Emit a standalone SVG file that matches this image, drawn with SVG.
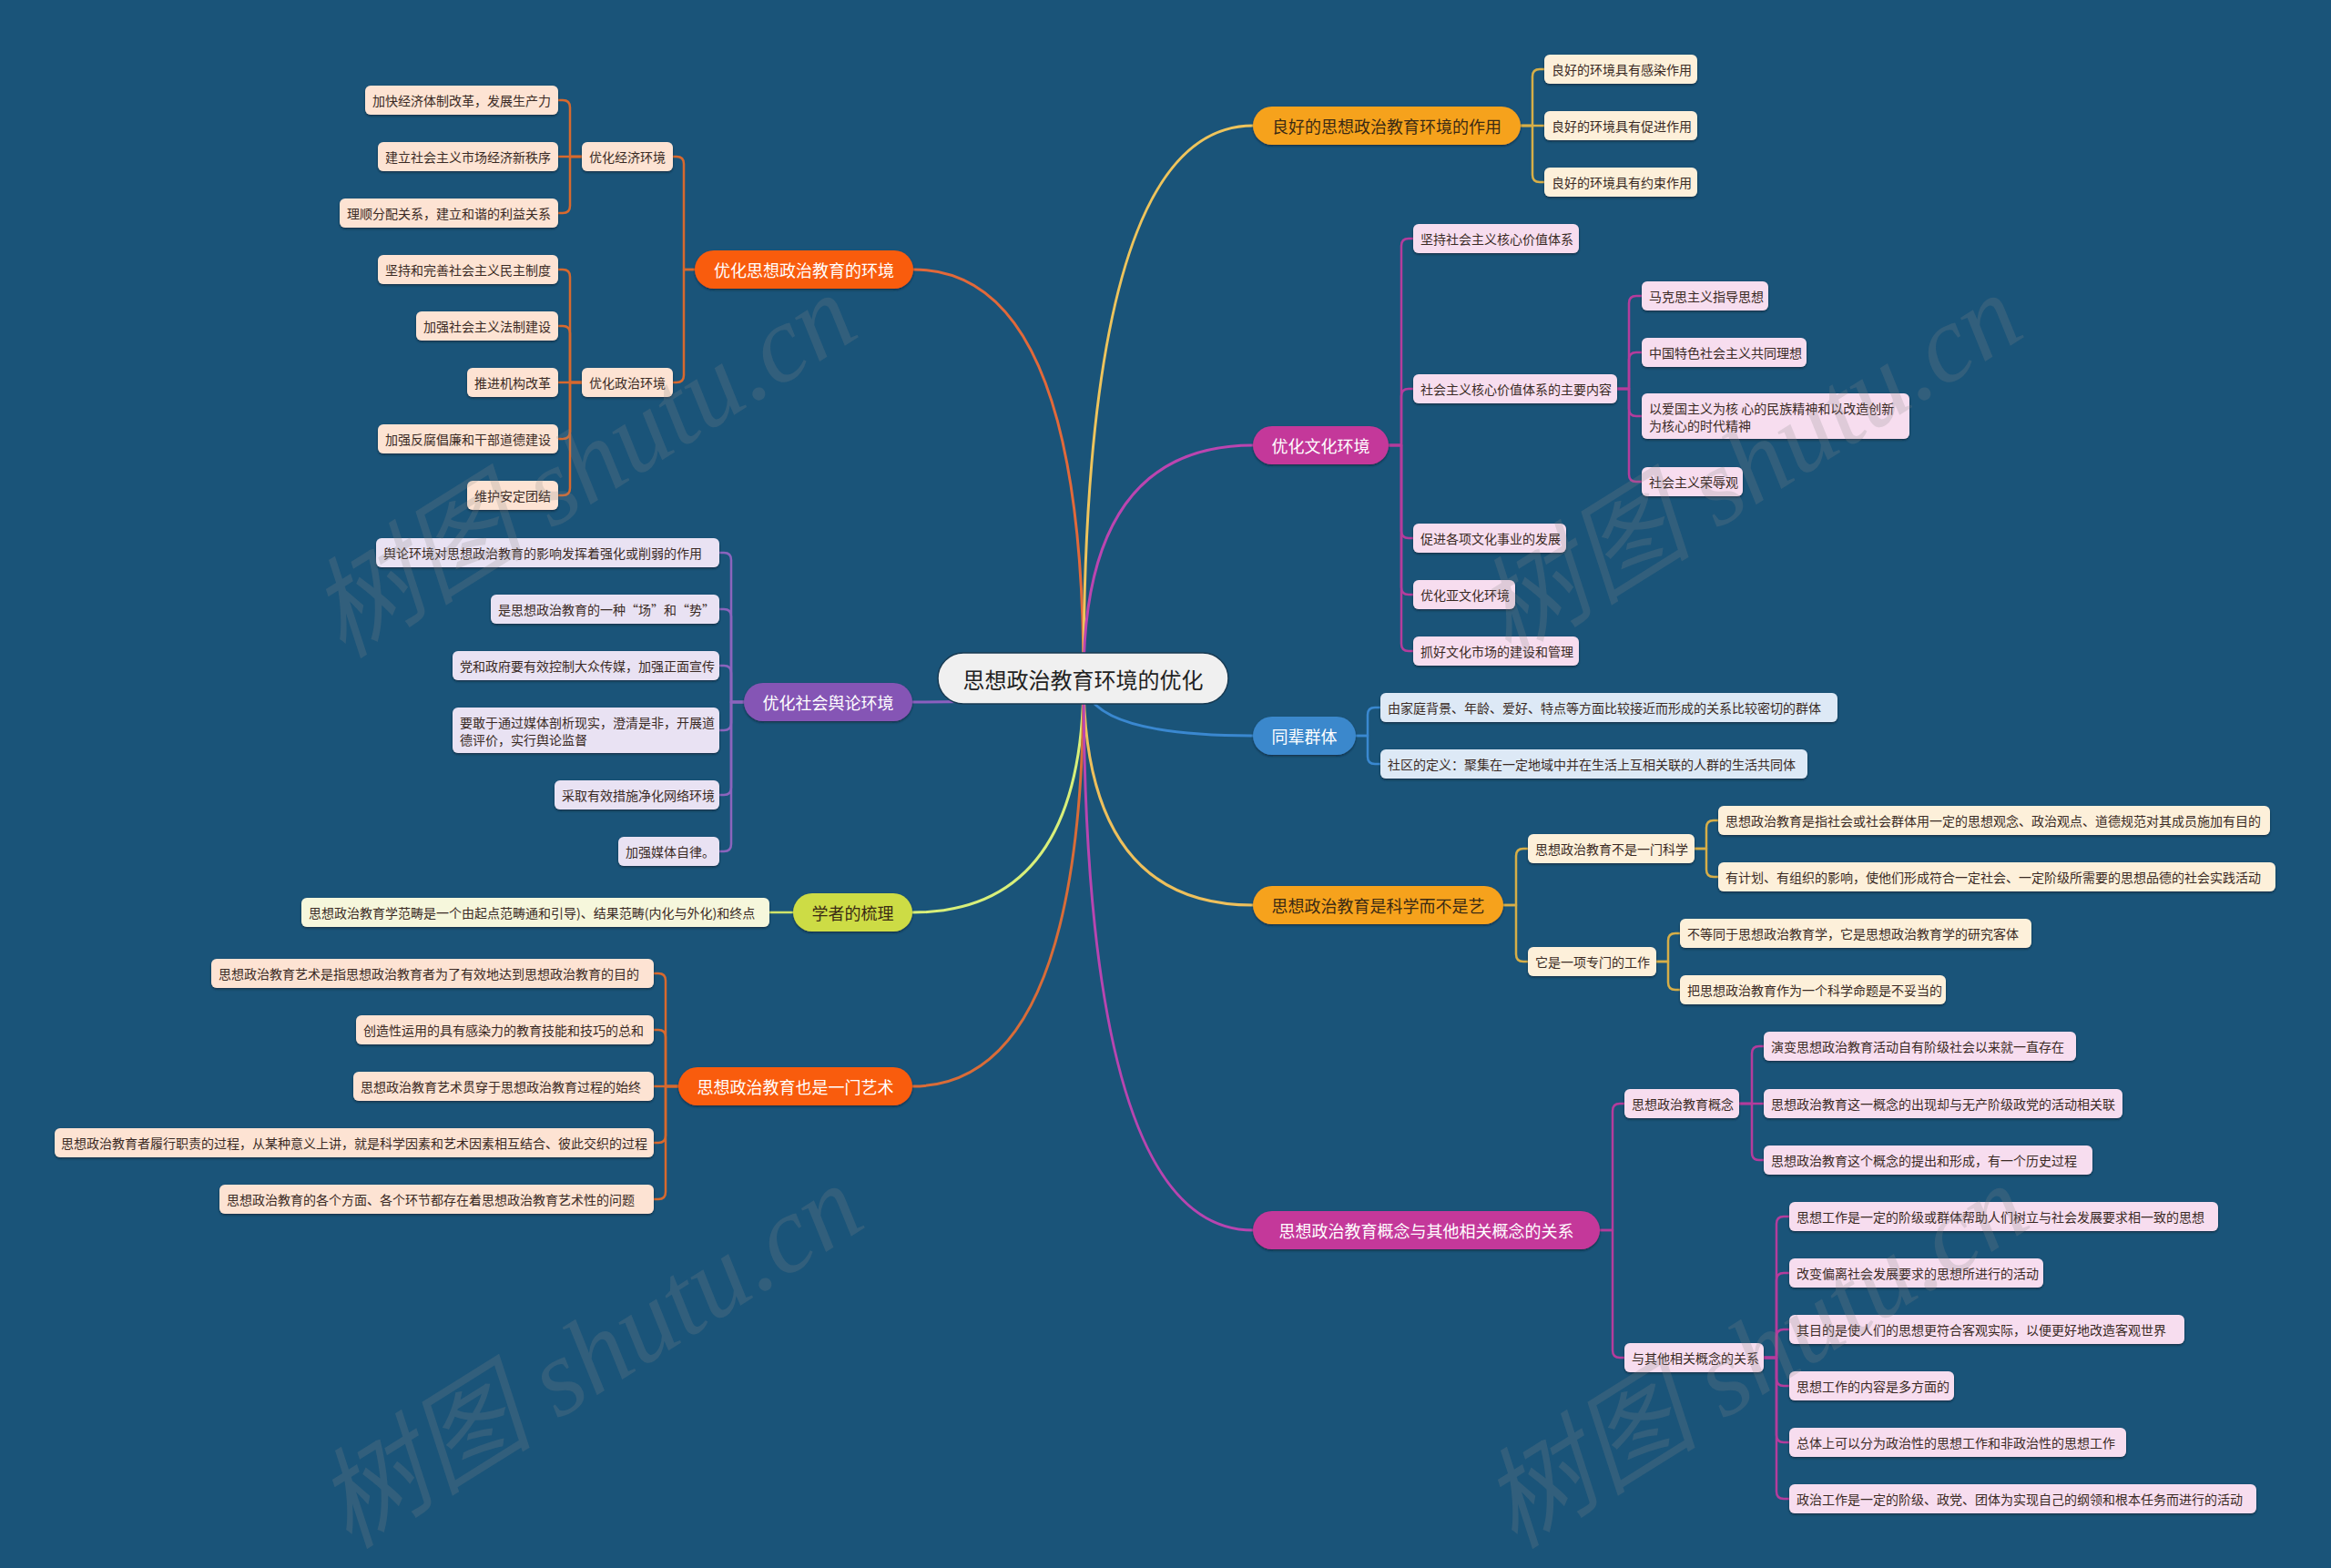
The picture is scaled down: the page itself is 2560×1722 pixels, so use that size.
<svg xmlns="http://www.w3.org/2000/svg" width="2560" height="1722" viewBox="0 0 2560 1722">
<defs>
<filter id="sh" x="-5%" y="-20%" width="110%" height="150%">
<feDropShadow dx="0" dy="1.5" stdDeviation="0.8" flood-color="#0a2436" flood-opacity="0.7"/>
</filter>
<style>
text{font-family:"Noto Sans CJK SC","Liberation Sans",sans-serif;dominant-baseline:central}
.t14{font-size:14px;fill:#3a2a24}
.t18{font-size:18px;text-anchor:middle}
.w{fill:#ffffff}
.d{fill:#3a2a14}
.leaf{filter:url(#sh)}
.lA{fill:#fde3d3}
.lB{fill:#e9e2f3}
.lC{fill:#f6f7dc}
.lE{fill:#fdf0da}
.lF{fill:#f7ddef}
.lG{fill:#dde9f6}
.c{fill:none;stroke-width:2.5;stroke-linecap:round;stroke-linejoin:round}
.m{fill:none;stroke-width:3;stroke-linecap:round}
.wm{font-family:"Liberation Serif","Noto Sans CJK SC",serif;font-style:italic;font-size:120px;fill:#8a8a8a;fill-opacity:0.22}
</style>
</defs>
<rect width="2560" height="1722" fill="#1a5479"/>

<g id="connectors">
<path class="m" stroke="#e2693a" d="M1190,745 Q1190,296 1003,296"/>
<path class="m" stroke="#8b5fc0" d="M1190,745 Q1190,771 1002,771"/>
<path class="m" stroke="#d8ef7a" d="M1190,745 Q1190,1002 1002,1002"/>
<path class="m" stroke="#d96c38" d="M1190,745 Q1190,1193 1002,1193"/>
<path class="m" stroke="#eec45c" d="M1190,745 Q1190,138 1376,138"/>
<path class="m" stroke="#bb45b0" d="M1190,745 Q1190,489 1376,489"/>
<path class="m" stroke="#3a88d0" d="M1190,745 Q1190,808 1376,808"/>
<path class="m" stroke="#eec05c" d="M1190,745 Q1190,994 1376,994"/>
<path class="m" stroke="#b845b0" d="M1190,745 Q1190,1351 1376,1351"/>

<g stroke="#d8692e">
<path class="c" d="M763,296 H751 V180 Q751,172 743,172 H739"/>
<path class="c" d="M763,296 H751 V412 Q751,420 743,420 H739"/>
<path class="c" d="M639,172 H626 V118 Q626,110 618,110 H613"/>
<path class="c" d="M639,172 H613"/>
<path class="c" d="M639,172 H626 V226 Q626,234 618,234 H613"/>
<path class="c" d="M639,420 H626 V304 Q626,296 618,296 H613"/>
<path class="c" d="M639,420 H626 V366 Q626,358 618,358 H613"/>
<path class="c" d="M639,420 H613"/>
<path class="c" d="M639,420 H626 V474 Q626,482 618,482 H613"/>
<path class="c" d="M639,420 H626 V536 Q626,544 618,544 H613"/>
</g>
<g stroke="#8b64bd">
<path class="c" d="M817,771 H803 V615 Q803,607 795,607 H790"/>
<path class="c" d="M817,771 H803 V677 Q803,669 795,669 H790"/>
<path class="c" d="M817,771 H803 V739 Q803,731 795,731 H790"/>
<path class="c" d="M817,771 H803 V794 Q803,802 795,802 H790"/>
<path class="c" d="M817,771 H803 V865 Q803,873 795,873 H790"/>
<path class="c" d="M817,771 H803 V927 Q803,935 795,935 H790"/>
</g>
<g stroke="#cfe46a">
<path class="c" d="M871,1002 H845"/>
</g>
<g stroke="#d8692e">
<path class="c" d="M745,1193 H731 V1077 Q731,1069 723,1069 H718"/>
<path class="c" d="M745,1193 H731 V1139 Q731,1131 723,1131 H718"/>
<path class="c" d="M745,1193 H718"/>
<path class="c" d="M745,1193 H731 V1247 Q731,1255 723,1255 H718"/>
<path class="c" d="M745,1193 H731 V1309 Q731,1317 723,1317 H718"/>
</g>
<g stroke="#d6ae48">
<path class="c" d="M1670,138 H1683 V84 Q1683,76 1691,76 H1696"/>
<path class="c" d="M1670,138 H1696"/>
<path class="c" d="M1670,138 H1683 V192 Q1683,200 1691,200 H1696"/>
</g>
<g stroke="#b43c9c">
<path class="c" d="M1525,489 H1539 V270 Q1539,262 1547,262 H1552"/>
<path class="c" d="M1525,489 H1539 V435 Q1539,427 1547,427 H1552"/>
<path class="c" d="M1525,489 H1539 V583 Q1539,591 1547,591 H1552"/>
<path class="c" d="M1525,489 H1539 V645 Q1539,653 1547,653 H1552"/>
<path class="c" d="M1525,489 H1539 V707 Q1539,715 1547,715 H1552"/>
<path class="c" d="M1776,427 H1789 V333 Q1789,325 1797,325 H1803"/>
<path class="c" d="M1776,427 H1789 V395 Q1789,387 1797,387 H1803"/>
<path class="c" d="M1776,427 H1789 V449 Q1789,457 1797,457 H1803"/>
<path class="c" d="M1776,427 H1789 V521 Q1789,529 1797,529 H1803"/>
</g>
<g stroke="#3a88d0">
<path class="c" d="M1489,808 H1502 V785 Q1502,777 1510,777 H1516"/>
<path class="c" d="M1489,808 H1502 V831 Q1502,839 1510,839 H1516"/>
</g>
<g stroke="#d6ae48">
<path class="c" d="M1651,994 H1665 V940 Q1665,932 1673,932 H1678"/>
<path class="c" d="M1651,994 H1665 V1048 Q1665,1056 1673,1056 H1678"/>
<path class="c" d="M1861,932 H1874 V909 Q1874,901 1882,901 H1887"/>
<path class="c" d="M1861,932 H1874 V955 Q1874,963 1882,963 H1887"/>
<path class="c" d="M1819,1056 H1832 V1033 Q1832,1025 1840,1025 H1845"/>
<path class="c" d="M1819,1056 H1832 V1079 Q1832,1087 1840,1087 H1845"/>
</g>
<g stroke="#b43c9c">
<path class="c" d="M1757,1351 H1771 V1220 Q1771,1212 1779,1212 H1784"/>
<path class="c" d="M1757,1351 H1771 V1483 Q1771,1491 1779,1491 H1784"/>
<path class="c" d="M1910,1212 H1924 V1157 Q1924,1149 1932,1149 H1937"/>
<path class="c" d="M1910,1212 H1937"/>
<path class="c" d="M1910,1212 H1924 V1266 Q1924,1274 1932,1274 H1937"/>
<path class="c" d="M1937,1491 H1951 V1344 Q1951,1336 1959,1336 H1965"/>
<path class="c" d="M1937,1491 H1951 V1406 Q1951,1398 1959,1398 H1965"/>
<path class="c" d="M1937,1491 H1951 V1468 Q1951,1460 1959,1460 H1965"/>
<path class="c" d="M1937,1491 H1951 V1514 Q1951,1522 1959,1522 H1965"/>
<path class="c" d="M1937,1491 H1951 V1576 Q1951,1584 1959,1584 H1965"/>
<path class="c" d="M1937,1491 H1951 V1638 Q1951,1646 1959,1646 H1965"/>
</g>
</g>

<g id="root"><rect x="1030" y="717" width="319" height="56" rx="28" fill="#f0f0f0" stroke="#173a52" stroke-width="1.5"/><text x="1189.5" y="745" style="font-size:24px;text-anchor:middle;fill:#222">思想政治教育环境的优化</text></g>

<!-- Branch A -->
<g id="nA"><rect class="leaf" x="763" y="275" width="240" height="42" rx="21" fill="#f95b0e"/><text class="t18 w" x="883" y="296">优化思想政治教育的环境</text></g>
<g id="nA1"><rect class="leaf lA" x="639" y="156" width="100" height="32" rx="6"/><text class="t14" x="647" y="172">优化经济环境</text></g>
<g id="nA11"><rect class="leaf lA" x="401" y="94" width="212" height="32" rx="6"/><text class="t14" x="409" y="110">加快经济体制改革，发展生产力</text></g>
<g id="nA12"><rect class="leaf lA" x="415" y="156" width="198" height="32" rx="6"/><text class="t14" x="423" y="172">建立社会主义市场经济新秩序</text></g>
<g id="nA13"><rect class="leaf lA" x="373" y="218" width="240" height="32" rx="6"/><text class="t14" x="381" y="234">理顺分配关系，建立和谐的利益关系</text></g>
<g id="nA2"><rect class="leaf lA" x="639" y="404" width="100" height="32" rx="6"/><text class="t14" x="647" y="420">优化政治环境</text></g>
<g id="nA21"><rect class="leaf lA" x="415" y="280" width="198" height="32" rx="6"/><text class="t14" x="423" y="296">坚持和完善社会主义民主制度</text></g>
<g id="nA22"><rect class="leaf lA" x="457" y="342" width="156" height="32" rx="6"/><text class="t14" x="465" y="358">加强社会主义法制建设</text></g>
<g id="nA23"><rect class="leaf lA" x="513" y="404" width="100" height="32" rx="6"/><text class="t14" x="521" y="420">推进机构改革</text></g>
<g id="nA24"><rect class="leaf lA" x="415" y="466" width="198" height="32" rx="6"/><text class="t14" x="423" y="482">加强反腐倡廉和干部道德建设</text></g>
<g id="nA25"><rect class="leaf lA" x="513" y="528" width="100" height="32" rx="6"/><text class="t14" x="521" y="544">维护安定团结</text></g>

<!-- Branch B -->
<g id="nB"><rect class="leaf" x="817" y="750" width="185" height="42" rx="21" fill="#8555b5"/><text class="t18 w" x="909.5" y="771">优化社会舆论环境</text></g>
<g id="nB1"><rect class="leaf lB" x="413" y="591" width="377" height="32" rx="6"/><text class="t14" x="421" y="607">舆论环境对思想政治教育的影响发挥着强化或削弱的作用</text></g>
<g id="nB2"><rect class="leaf lB" x="539" y="653" width="251" height="32" rx="6"/><text class="t14" x="547" y="669">是思想政治教育的一种“场”和“势”</text></g>
<g id="nB3"><rect class="leaf lB" x="497" y="715" width="293" height="32" rx="6"/><text class="t14" x="505" y="731">党和政府要有效控制大众传媒，加强正面宣传</text></g>
<g id="nB4"><rect class="leaf lB" x="497" y="777" width="293" height="50" rx="6"/><text class="t14" x="505" y="793">要敢于通过媒体剖析现实，澄清是非，开展道</text><text class="t14" x="505" y="812">德评价，实行舆论监督</text></g>
<g id="nB5"><rect class="leaf lB" x="609" y="857" width="181" height="32" rx="6"/><text class="t14" x="617" y="873">采取有效措施净化网络环境</text></g>
<g id="nB6"><rect class="leaf lB" x="679" y="919" width="111" height="32" rx="6"/><text class="t14" x="687" y="935">加强媒体自律。</text></g>

<!-- Branch C -->
<g id="nC"><rect class="leaf" x="871" y="981" width="131" height="42" rx="21" fill="#cddc45"/><text class="t18 d" x="936.5" y="1002">学者的梳理</text></g>
<g id="nC1"><rect class="leaf lC" x="331" y="986" width="514" height="32" rx="6"/><text class="t14" x="339" y="1002">思想政治教育学范畴是一个由起点范畴通和引导)、结果范畴(内化与外化)和终点</text></g>

<!-- Branch D -->
<g id="nD"><rect class="leaf" x="745" y="1172" width="257" height="42" rx="21" fill="#f95b0e"/><text class="t18 w" x="873.5" y="1193">思想政治教育也是一门艺术</text></g>
<g id="nD1"><rect class="leaf lA" x="232" y="1053" width="486" height="32" rx="6"/><text class="t14" x="240" y="1069">思想政治教育艺术是指思想政治教育者为了有效地达到思想政治教育的目的</text></g>
<g id="nD2"><rect class="leaf lA" x="391" y="1115" width="327" height="32" rx="6"/><text class="t14" x="399" y="1131">创造性运用的具有感染力的教育技能和技巧的总和</text></g>
<g id="nD3"><rect class="leaf lA" x="388" y="1177" width="330" height="32" rx="6"/><text class="t14" x="396" y="1193">思想政治教育艺术贯穿于思想政治教育过程的始终</text></g>
<g id="nD4"><rect class="leaf lA" x="60" y="1239" width="658" height="32" rx="6"/><text class="t14" x="67" y="1255">思想政治教育者履行职责的过程，从某种意义上讲，就是科学因素和艺术因素相互结合、彼此交织的过程</text></g>
<g id="nD5"><rect class="leaf lA" x="241" y="1301" width="477" height="32" rx="6"/><text class="t14" x="249" y="1317">思想政治教育的各个方面、各个环节都存在着思想政治教育艺术性的问题</text></g>

<!-- Branch E -->
<g id="nE"><rect class="leaf" x="1376" y="117" width="294" height="42" rx="21" fill="#f6a21f"/><text class="t18 d" x="1523" y="138">良好的思想政治教育环境的作用</text></g>
<g id="nE1"><rect class="leaf lE" x="1696" y="60" width="168" height="32" rx="6"/><text class="t14" x="1704" y="76">良好的环境具有感染作用</text></g>
<g id="nE2"><rect class="leaf lE" x="1696" y="122" width="168" height="32" rx="6"/><text class="t14" x="1704" y="138">良好的环境具有促进作用</text></g>
<g id="nE3"><rect class="leaf lE" x="1696" y="184" width="168" height="32" rx="6"/><text class="t14" x="1704" y="200">良好的环境具有约束作用</text></g>

<!-- Branch F -->
<g id="nF"><rect class="leaf" x="1376" y="468" width="149" height="42" rx="21" fill="#c4399a"/><text class="t18 w" x="1450.5" y="489">优化文化环境</text></g>
<g id="nF1"><rect class="leaf lF" x="1552" y="246" width="182" height="32" rx="6"/><text class="t14" x="1560" y="262">坚持社会主义核心价值体系</text></g>
<g id="nF2"><rect class="leaf lF" x="1552" y="411" width="224" height="32" rx="6"/><text class="t14" x="1560" y="427">社会主义核心价值体系的主要内容</text></g>
<g id="nF21"><rect class="leaf lF" x="1803" y="309" width="139" height="32" rx="6"/><text class="t14" x="1811" y="325">马克思主义指导思想</text></g>
<g id="nF22"><rect class="leaf lF" x="1803" y="371" width="181" height="32" rx="6"/><text class="t14" x="1811" y="387">中国特色社会主义共同理想</text></g>
<g id="nF23"><rect class="leaf lF" x="1803" y="432" width="294" height="50" rx="6"/><text class="t14" x="1811" y="448">以爱国主义为核 心的民族精神和以改造创新</text><text class="t14" x="1811" y="467">为核心的时代精神</text></g>
<g id="nF24"><rect class="leaf lF" x="1803" y="513" width="111" height="32" rx="6"/><text class="t14" x="1811" y="529">社会主义荣辱观</text></g>
<g id="nF3"><rect class="leaf lF" x="1552" y="575" width="168" height="32" rx="6"/><text class="t14" x="1560" y="591">促进各项文化事业的发展</text></g>
<g id="nF4"><rect class="leaf lF" x="1552" y="637" width="112" height="32" rx="6"/><text class="t14" x="1560" y="653">优化亚文化环境</text></g>
<g id="nF5"><rect class="leaf lF" x="1552" y="699" width="182" height="32" rx="6"/><text class="t14" x="1560" y="715">抓好文化市场的建设和管理</text></g>

<!-- Branch G -->
<g id="nG"><rect class="leaf" x="1376" y="787" width="113" height="42" rx="21" fill="#3a88cc"/><text class="t18 w" x="1432.5" y="808">同辈群体</text></g>
<g id="nG1"><rect class="leaf lG" x="1516" y="761" width="502" height="32" rx="6"/><text class="t14" x="1524" y="777">由家庭背景、年龄、爱好、特点等方面比较接近而形成的关系比较密切的群体</text></g>
<g id="nG2"><rect class="leaf lG" x="1516" y="823" width="469" height="32" rx="6"/><text class="t14" x="1524" y="839">社区的定义：聚集在一定地域中并在生活上互相关联的人群的生活共同体</text></g>

<!-- Branch H -->
<g id="nH"><rect class="leaf" x="1376" y="973" width="275" height="42" rx="21" fill="#f6a21f"/><text class="t18 d" x="1513.5" y="994">思想政治教育是科学而不是艺</text></g>
<g id="nH1"><rect class="leaf lE" x="1678" y="916" width="183" height="32" rx="6"/><text class="t14" x="1686" y="932">思想政治教育不是一门科学</text></g>
<g id="nH11"><rect class="leaf lE" x="1887" y="885" width="606" height="32" rx="6"/><text class="t14" x="1895" y="901">思想政治教育是指社会或社会群体用一定的思想观念、政治观点、道德规范对其成员施加有目的</text></g>
<g id="nH12"><rect class="leaf lE" x="1887" y="947" width="612" height="32" rx="6"/><text class="t14" x="1895" y="963">有计划、有组织的影响，使他们形成符合一定社会、一定阶级所需要的思想品德的社会实践活动</text></g>
<g id="nH2"><rect class="leaf lE" x="1678" y="1040" width="141" height="32" rx="6"/><text class="t14" x="1686" y="1056">它是一项专门的工作</text></g>
<g id="nH21"><rect class="leaf lE" x="1845" y="1009" width="386" height="32" rx="6"/><text class="t14" x="1853" y="1025">不等同于思想政治教育学，它是思想政治教育学的研究客体</text></g>
<g id="nH22"><rect class="leaf lE" x="1845" y="1071" width="292" height="32" rx="6"/><text class="t14" x="1853" y="1087">把思想政治教育作为一个科学命题是不妥当的</text></g>

<!-- Branch I -->
<g id="nI"><rect class="leaf" x="1376" y="1330" width="381" height="42" rx="21" fill="#c4399a"/><text class="t18 w" x="1566.5" y="1351">思想政治教育概念与其他相关概念的关系</text></g>
<g id="nI1"><rect class="leaf lF" x="1784" y="1196" width="126" height="32" rx="6"/><text class="t14" x="1792" y="1212">思想政治教育概念</text></g>
<g id="nI11"><rect class="leaf lF" x="1937" y="1133" width="343" height="32" rx="6"/><text class="t14" x="1945" y="1149">演变思想政治教育活动自有阶级社会以来就一直存在</text></g>
<g id="nI12"><rect class="leaf lF" x="1937" y="1196" width="394" height="32" rx="6"/><text class="t14" x="1945" y="1212">思想政治教育这一概念的出现却与无产阶级政党的活动相关联</text></g>
<g id="nI13"><rect class="leaf lF" x="1937" y="1258" width="361" height="32" rx="6"/><text class="t14" x="1945" y="1274">思想政治教育这个概念的提出和形成，有一个历史过程</text></g>
<g id="nI2"><rect class="leaf lF" x="1784" y="1475" width="153" height="32" rx="6"/><text class="t14" x="1792" y="1491">与其他相关概念的关系</text></g>
<g id="nI21"><rect class="leaf lF" x="1965" y="1320" width="471" height="32" rx="6"/><text class="t14" x="1973" y="1336">思想工作是一定的阶级或群体帮助人们树立与社会发展要求相一致的思想</text></g>
<g id="nI22"><rect class="leaf lF" x="1965" y="1382" width="279" height="32" rx="6"/><text class="t14" x="1973" y="1398">改变偏离社会发展要求的思想所进行的活动</text></g>
<g id="nI23"><rect class="leaf lF" x="1965" y="1444" width="434" height="32" rx="6"/><text class="t14" x="1973" y="1460">其目的是使人们的思想更符合客观实际，以便更好地改造客观世界</text></g>
<g id="nI24"><rect class="leaf lF" x="1965" y="1506" width="181" height="32" rx="6"/><text class="t14" x="1973" y="1522">思想工作的内容是多方面的</text></g>
<g id="nI25"><rect class="leaf lF" x="1965" y="1568" width="370" height="32" rx="6"/><text class="t14" x="1973" y="1584">总体上可以分为政治性的思想工作和非政治性的思想工作</text></g>
<g id="nI26"><rect class="leaf lF" x="1965" y="1630" width="513" height="32" rx="6"/><text class="t14" x="1973" y="1646">政治工作是一定的阶级、政党、团体为实现自己的纲领和根本任务而进行的活动</text></g>

<g id="watermark">
<text class="wm" transform="translate(355,690) rotate(-32)">树图 shutu.cn</text>
<text class="wm" transform="translate(1635,690) rotate(-32)">树图 shutu.cn</text>
<text class="wm" transform="translate(362,1668) rotate(-32)">树图 shutu.cn</text>
<text class="wm" transform="translate(1642,1668) rotate(-32)">树图 shutu.cn</text>
</g>
</svg>
